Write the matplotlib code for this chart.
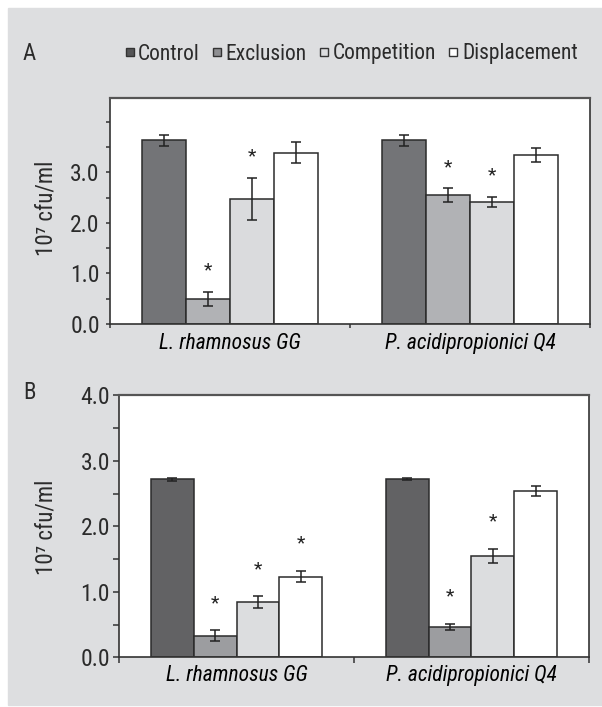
import numpy as np
import matplotlib.pyplot as plt
from matplotlib.patches import Rectangle
from matplotlib.lines import Line2D

plt.rcParams['font.family'] = ['Liberation Sans Narrow', 'Roboto Condensed', 'Open Sans Condensed',
                               'Liberation Sans', 'DejaVu Sans']
plt.rcParams['text.color'] = '#2b2b2b'

strains = ['L. rhamnosus GG', 'P. acidipropionici Q4']
treatments = ['Control', 'Exclusion', 'Competition', 'Displacement']

# panel A, 10^7 cfu/ml, one row per treatment, one value per strain
a_means = [[3.64, 3.64], [0.50, 2.55], [2.48, 2.42], [3.39, 3.34]]
a_errs = [[0.11, 0.11], [0.14, 0.14], [0.42, 0.10], [0.21, 0.14]]
a_stars = [[0, 0], [1, 1], [1, 1], [0, 0]]

# panel B
b_means = [[2.72, 2.72], [0.33, 0.46], [0.84, 1.55], [1.23, 2.54]]
b_errs = [[0.025, 0.02], [0.08, 0.045], [0.09, 0.11], [0.085, 0.08]]
b_stars = [[0, 0], [1, 1], [1, 1], [1, 0]]

a_colors = ['#737477', '#b1b2b5', '#dadbdd', '#ffffff']
b_colors = ['#626264', '#9c9da0', '#dcdddf', '#ffffff']
legend_colors = ['#555557', '#8e8f92', '#dcdddf', '#ffffff']

edge = '#2b2b2b'
bar_w = 0.1825
star_gap = 0.42

fig = plt.figure(figsize=(6.02, 7.07), dpi=100)
fig.patches.append(Rectangle((8 / 602, 2 / 707), 594 / 602, 697 / 707,
                             transform=fig.transFigure, color='#dddee0', zorder=-5))


def draw_panel(ax, means, errs, stars, colors, ymax, labelled, tick_len, tick_pad, lab_pad):
    x = np.arange(len(strains))
    for i, name in enumerate(treatments):
        pos = x + (i - 1.5) * bar_w
        ax.bar(pos, means[i], bar_w, color=colors[i], edgecolor=edge, linewidth=1.1, zorder=2)
        ax.errorbar(pos, means[i], yerr=errs[i], fmt='none', ecolor='#222222',
                    elinewidth=1.1, capsize=3.3, capthick=1.1, zorder=3)
        for j in range(len(strains)):
            if stars[i][j]:
                ax.text(pos[j], means[i][j] + errs[i][j] + star_gap, '*', ha='center',
                        va='center', fontsize=14, color='#222222', zorder=4)
    ax.set_xlim(-0.5, 1.5)
    ax.set_ylim(0, ymax)
    ticks = np.arange(0, 4.01, 0.5)
    ax.set_yticks(ticks)
    ax.set_yticklabels([f'{t:.1f}' if (t == int(t) and t <= labelled) else '' for t in ticks])
    ax.set_xticks(x)
    ax.set_xticklabels(strains, style='italic', fontsize=15.5)
    ax.set_xticks([-0.5, 0.5, 1.5], minor=True)
    ax.tick_params(axis='x', which='major', length=0, pad=lab_pad)
    ax.tick_params(axis='x', which='minor', length=tick_len, width=1.1, color='#333333')
    ax.tick_params(axis='y', length=tick_len, width=1.1, color='#333333', pad=tick_pad,
                   labelsize=17, labelcolor='#2b2b2b')
    for side in ['left', 'bottom', 'right']:
        ax.spines[side].set_color('#333333')
        ax.spines[side].set_linewidth(1.2)
    ax.spines['top'].set_color('#555555')
    ax.spines['top'].set_linewidth(1.6)


ax_a = fig.add_axes([110 / 602, 1 - 324 / 707, 480 / 602, 226.3 / 707])
draw_panel(ax_a, a_means, a_errs, a_stars, a_colors, 4.48, 3, 3, 4.3, 6.5)

ax_b = fig.add_axes([119.3 / 602, 1 - 657.3 / 707, 469.4 / 602, 262 / 707])
draw_panel(ax_b, b_means, b_errs, b_stars, b_colors, 4.0, 4, 4.3, 2.4, 5.5)

for y in [208, 527]:
    fig.text(46 / 602, 1 - y / 707, '10\u2077 cfu/ml', rotation=90, ha='center', va='center',
             fontsize=16.5)

fig.text(23 / 602, 1 - 53 / 707, 'A', fontsize=16.5, va='center')
fig.text(23 / 602, 1 - 392.5 / 707, 'B', fontsize=16.5, va='center')

handles = [Line2D([], [], ls='none', marker='s', markersize=5.5, markerfacecolor=c,
                  markeredgecolor='#333333', markeredgewidth=1.0) for c in legend_colors]
fig.legend(handles, treatments, loc='center', bbox_to_anchor=(351 / 602, 1 - 54 / 707),
           ncol=4, frameon=False, fontsize=15.5, handlelength=0.5, handletextpad=0.15,
           columnspacing=0.55, borderpad=0)

fig.savefig('out.png', dpi=100)
